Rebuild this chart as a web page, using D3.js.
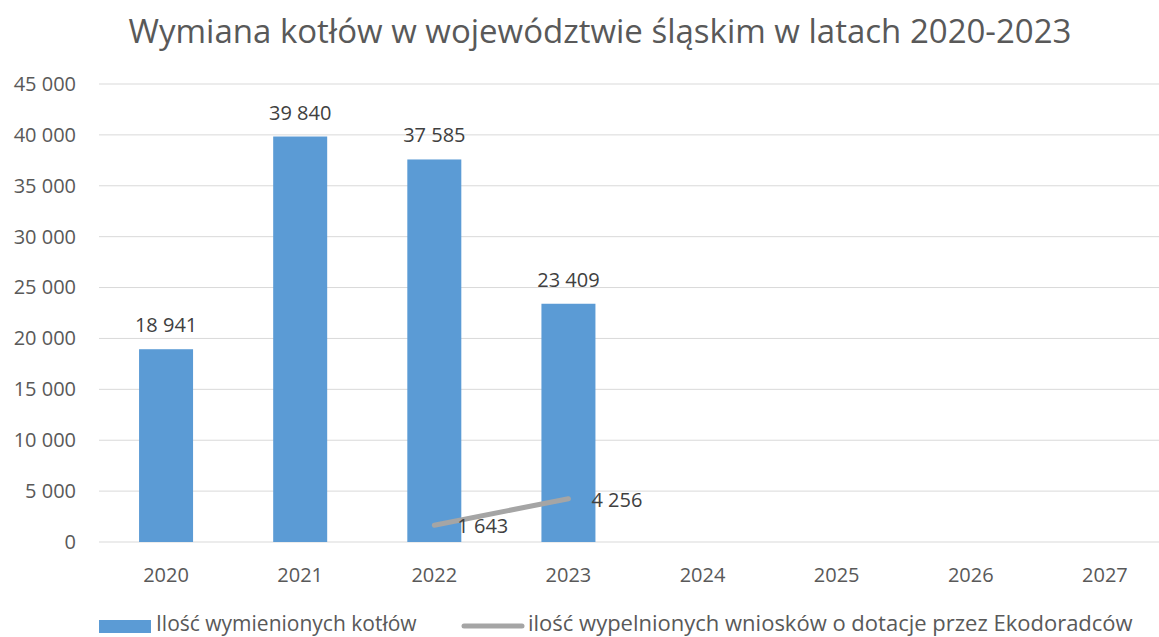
<!DOCTYPE html>
<html>
<head>
<meta charset="utf-8">
<script src="https://cdn.jsdelivr.net/npm/d3@7"></script>
<style>
  body { margin: 0; background: #fff; }
  text { font-family: "Open Sans", sans-serif; }
</style>
</head>
<body>
<div class="chart"></div>
<script>
var years = ["2020", "2021", "2022", "2023", "2024", "2025", "2026", "2027"];
var boilers = [18941, 39840, 37585, 23409, null, null, null, null];
var applications = [null, null, 1643, 4256, null, null, null, null];
var yTicks = [0, 5000, 10000, 15000, 20000, 25000, 30000, 35000, 40000, 45000];

var width = 1159, height = 637;
var fmt = function (v) { return d3.format(",")(v).replace(/,/g, " "); };

var svg = d3.select(".chart").append("svg")
    .attr("width", width)
    .attr("height", height);

var x = d3.scaleBand().domain(years).range([99, 1172]);
var y = d3.scaleLinear().domain([0, 45000]).range([542, 84]);
var grey = "#595959";

// title
svg.append("text")
    .attr("x", 600).attr("y", 43)
    .attr("text-anchor", "middle")
    .style("font-size", "33px")
    .style("fill", grey)
    .text("Wymiana kotłów w województwie śląskim w latach 2020-2023");

// gridlines
svg.selectAll("line.grid").data(yTicks).enter().append("line")
    .attr("class", "grid")
    .attr("x1", 99).attr("x2", 1172)
    .attr("y1", function (d) { return y(d); })
    .attr("y2", function (d) { return y(d); })
    .style("stroke", "#d9d9d9")
    .style("stroke-width", "1px");

// y axis labels
var yAxis = svg.append("g")
    .attr("transform", "translate(76,0)")
    .call(d3.axisLeft(y).tickValues(yTicks).tickSize(0).tickPadding(0).tickFormat(fmt));
yAxis.select(".domain").remove();
yAxis.selectAll("text")
    .style("font-size", "20px")
    .style("fill", grey)
    .style("font-family", "'Open Sans', sans-serif");

// x axis labels
var xAxis = svg.append("g")
    .attr("transform", "translate(0,582)")
    .call(d3.axisBottom(x).tickSize(0).tickPadding(0));
xAxis.select(".domain").remove();
xAxis.selectAll("text")
    .attr("dy", "0")
    .style("font-size", "20px")
    .style("fill", grey)
    .style("font-family", "'Open Sans', sans-serif");

// bars
var barW = 54;
var barData = years.map(function (d, i) { return { year: d, v: boilers[i] }; })
    .filter(function (d) { return d.v != null; });
svg.selectAll("rect.bar").data(barData).enter().append("rect")
    .attr("class", "bar")
    .attr("x", function (d) { return x(d.year) + x.bandwidth() / 2 - barW / 2; })
    .attr("width", barW)
    .attr("y", function (d) { return y(d.v); })
    .attr("height", function (d) { return y(0) - y(d.v); })
    .style("fill", "#5b9bd5");
svg.selectAll("text.barlab").data(barData).enter().append("text")
    .attr("class", "barlab")
    .attr("x", function (d) { return x(d.year) + x.bandwidth() / 2; })
    .attr("y", function (d) { return y(d.v) - 17; })
    .attr("text-anchor", "middle")
    .style("font-size", "20px")
    .style("fill", "#404040")
    .text(function (d) { return fmt(d.v); });

// line
var lineData = years.map(function (d, i) { return { year: d, v: applications[i] }; })
    .filter(function (d) { return d.v != null; });
var line = d3.line()
    .x(function (d) { return x(d.year) + x.bandwidth() / 2; })
    .y(function (d) { return y(d.v); });
svg.append("path")
    .datum(lineData)
    .attr("d", line)
    .style("fill", "none")
    .style("stroke", "#a5a5a5")
    .style("stroke-width", "5px")
    .style("stroke-linecap", "round");
svg.selectAll("text.linelab").data(lineData).enter().append("text")
    .attr("class", "linelab")
    .attr("x", function (d) { return x(d.year) + x.bandwidth() / 2 + 23; })
    .attr("y", function (d) { return y(d.v) + 8; })
    .style("font-size", "20px")
    .style("fill", "#404040")
    .text(function (d) { return fmt(d.v); });

// legend
svg.append("rect")
    .attr("x", 99).attr("y", 620).attr("width", 52).attr("height", 13)
    .style("fill", "#5b9bd5");
svg.append("text")
    .attr("x", 156).attr("y", 631)
    .style("font-size", "21px").style("fill", grey)
    .text("Ilość wymienionych kotłów");
svg.append("line")
    .attr("x1", 464).attr("x2", 522).attr("y1", 626).attr("y2", 626)
    .style("stroke", "#a5a5a5").style("stroke-width", "5px")
    .style("stroke-linecap", "round");
svg.append("text")
    .attr("x", 528).attr("y", 631)
    .style("font-size", "22px").style("fill", grey)
    .text("ilość wypelnionych wniosków o dotacje przez Ekodoradców");
</script>
</body>
</html>
